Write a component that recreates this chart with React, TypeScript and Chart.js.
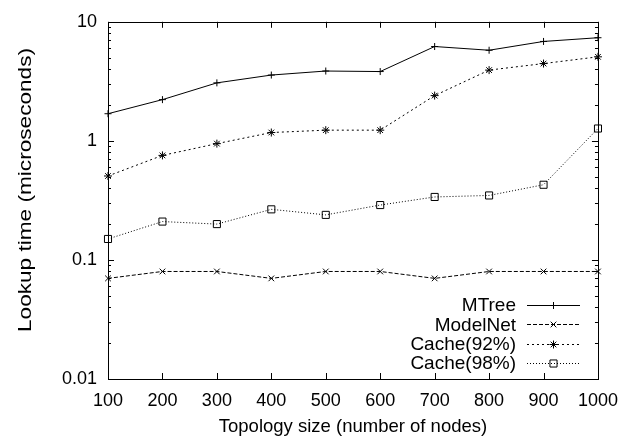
import React, { useEffect, useRef } from "react";
import { Chart, registerables } from "chart.js";

Chart.register(...registerables);

const categories = [100, 200, 300, 400, 500, 600, 700, 800, 900, 1000];
const mtree = [1.69, 2.22, 3.07, 3.57, 3.86, 3.82, 6.2, 5.77, 6.84, 7.35];
const modelnet = [0.07, 0.08, 0.08, 0.07, 0.08, 0.08, 0.07, 0.08, 0.08, 0.08];
const cache92 = [0.507, 0.755, 0.948, 1.175, 1.23, 1.23, 2.4, 3.93, 4.46, 5.08];
const cache98 = [0.15, 0.21, 0.2, 0.266, 0.239, 0.289, 0.338, 0.348, 0.428, 1.27];
const yTickLabels = ["0.01", "0.1", "1", "10"];
const yTickValues = [0.01, 0.1, 1, 10];
const seriesNames = ["MTree", "ModelNet", "Cache(92%)", "Cache(98%)"];
const xTitle = "Topology size (number of nodes)";
const yTitle = "Lookup time (microseconds)";

const FONT = "'Liberation Sans', Arial, Helvetica, sans-serif";

function drawMarker(ctx: CanvasRenderingContext2D, style: string, x: number, y: number, r: number) {
  ctx.beginPath();
  const d = r * Math.SQRT1_2;
  if (style === "cross" || style === "star") {
    ctx.moveTo(x - r, y);
    ctx.lineTo(x + r, y);
    ctx.moveTo(x, y - r);
    ctx.lineTo(x, y + r);
  }
  if (style === "crossRot" || style === "star") {
    ctx.moveTo(x - d, y - d);
    ctx.lineTo(x + d, y + d);
    ctx.moveTo(x - d, y + d);
    ctx.lineTo(x + d, y - d);
  }
  if (style === "rect") {
    ctx.rect(x - d, y - d, 2 * d, 2 * d);
  }
  ctx.stroke();
}

const framePlugin = {
  id: "gnuframe",
  afterDatasetsDraw(chart: any) {
    const ctx: CanvasRenderingContext2D = chart.ctx;
    const { left, right, top, bottom } = chart.chartArea;
    const xs = chart.scales.x;
    const ys = chart.scales.y;
    ctx.save();
    ctx.strokeStyle = "#000";
    ctx.lineWidth = 1;
    ctx.setLineDash([]);
    // ticks
    ctx.beginPath();
    categories.forEach((v) => {
      const px = Math.round(xs.getPixelForValue(v)) + 0.5;
      ctx.moveTo(px, bottom);
      ctx.lineTo(px, bottom - 6);
      ctx.moveTo(px, top);
      ctx.lineTo(px, top + 6);
    });
    for (let dec = 0.01; dec < 10; dec *= 10) {
      for (let m = 1; m <= 10; m++) {
        const v = dec * m;
        const py = Math.round(ys.getPixelForValue(v)) + 0.5;
        const len = m === 1 || m === 10 ? 6 : 3;
        ctx.moveTo(left, py);
        ctx.lineTo(left + len, py);
        ctx.moveTo(right, py);
        ctx.lineTo(right - len, py);
      }
    }
    ctx.stroke();
    // border
    ctx.strokeRect(Math.round(left) + 0.5, Math.round(top) + 0.5, Math.round(right - left), Math.round(bottom - top));

    // y title (stretched like the reference)
    ctx.save();
    ctx.font = `19px ${FONT}`;
    ctx.fillStyle = "#000";
    ctx.textAlign = "center";
    ctx.textBaseline = "middle";
    const w = ctx.measureText(yTitle).width;
    ctx.translate(26, 190);
    ctx.rotate(-Math.PI / 2);
    ctx.scale(284 / w, 1);
    ctx.fillText(yTitle, 0, 0);
    ctx.restore();

    // legend
    const dsets = chart.data.datasets;
    ctx.font = `19px ${FONT}`;
    ctx.fillStyle = "#000";
    ctx.textAlign = "right";
    ctx.textBaseline = "middle";
    dsets.forEach((ds: any, i: number) => {
      const y = 305 + i * 19.3;
      ctx.fillText(ds.label, 516, y + 1);
      ctx.beginPath();
      ctx.setLineDash(ds.borderDash || []);
      ctx.lineWidth = ds.borderWidth;
      ctx.strokeStyle = ds.borderColor;
      ctx.moveTo(527, Math.round(y) + 0.5);
      ctx.lineTo(580, Math.round(y) + 0.5);
      ctx.stroke();
      ctx.setLineDash([]);
      ctx.strokeStyle = "#000";
      drawMarker(ctx, ds.pointStyle, 553.5, Math.round(y) + 0.5, ds.pointRadius);
    });
    ctx.restore();
  },
};

export default function App() {
  const ref = useRef<HTMLCanvasElement | null>(null);
  useEffect(() => {
    document.body.style.margin = "0";
    Chart.defaults.font.family = FONT;
    Chart.defaults.color = "#000";
    const mk = (label: string, data: number[], dash: number[], style: string, r: number) => ({
      label,
      data: categories.map((c, i) => ({ x: c, y: data[i] })),
      borderColor: "#000",
      borderWidth: 1,
      borderDash: dash,
      pointStyle: style,
      pointRadius: r,
      pointBorderWidth: 1,
      pointBorderColor: "#000",
      pointBackgroundColor: "rgba(0,0,0,0)",
      tension: 0,
      fill: false,
      clip: false as any,
    });
    const chart = new Chart(ref.current as HTMLCanvasElement, {
      type: "line",
      data: {
        datasets: [
          mk(seriesNames[0], mtree, [], "cross", 3.5),
          mk(seriesNames[1], modelnet, [4, 2], "crossRot", 4),
          mk(seriesNames[2], cache92, [2, 3], "star", 4),
          mk(seriesNames[3], cache98, [1, 2], "rect", 5),
        ] as any,
      },
      options: {
        animation: false,
        responsive: false,
        devicePixelRatio: 1,
        layout: { padding: { top: 14, right: 26, left: 0, bottom: 0 } },
        plugins: { legend: { display: false }, tooltip: { enabled: false } },
        scales: {
          x: {
            type: "linear",
            min: 100,
            max: 1000,
            grid: { display: false, drawTicks: false },
            border: { display: false },
            ticks: {
              stepSize: 100,
              padding: 11,
              font: { size: 18 },
              color: "#000",
              maxRotation: 0,
              autoSkip: false,
              callback: (v: any) => String(v),
            },
            title: {
              display: true,
              text: xTitle,
              font: { size: 18.5 },
              color: "#000",
              padding: { top: 0, bottom: 7 },
            },
            afterFit: (s: any) => {
              s.height = 66;
            },
          },
          y: {
            type: "logarithmic",
            min: 0.01,
            max: 10,
            grid: { display: false, drawTicks: false },
            border: { display: false },
            afterBuildTicks: (s: any) => {
              s.ticks = yTickValues.map((v) => ({ value: v }));
            },
            ticks: {
              padding: 11,
              font: { size: 18 },
              color: "#000",
              autoSkip: false,
              callback: (v: any) => {
                const i = yTickValues.indexOf(Number(v));
                return i >= 0 ? yTickLabels[i] : "";
              },
            },
            title: { display: false },
            afterFit: (s: any) => {
              s.width = 108;
            },
          },
        },
      },
      plugins: [framePlugin],
    });
    return () => chart.destroy();
  }, []);
  return (
    <div style={{ width: 629, height: 445 }}>
      <canvas ref={ref} width={629} height={445} style={{ width: 629, height: 445, display: "block" }} />
    </div>
  );
}
